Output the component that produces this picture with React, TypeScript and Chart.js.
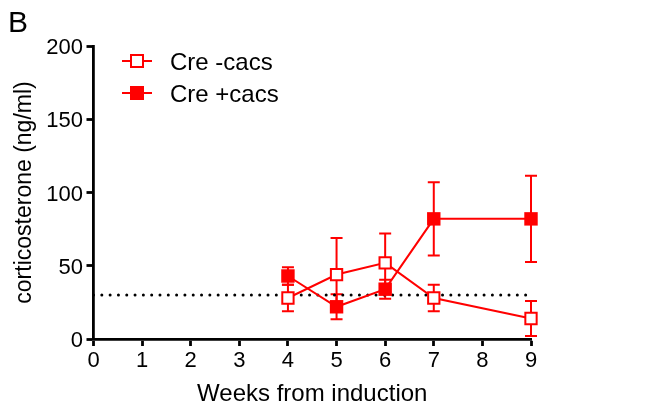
import React, { useEffect, useRef } from "react";
import { Chart, registerables } from "chart.js";
Chart.register(...registerables);

const weeks = [4, 5, 6, 7, 9];
const creMinusMean = [28, 44, 52, 28, 14];
const creMinusErr = [9, 25, 20, 9, 12];
const crePlusMean = [43, 22, 34, 82, 82];
const crePlusErr = [6, 8.5, 6.5, 25, 29.5];
const thresholdValue = 30;
const xRange = [0, 9];
const yRange = [0, 200];
const yStep = 50;
const seriesNames = ["Cre -cacs", "Cre +cacs"];
const xTitle = "Weeks from induction";
const yTitle = "corticosterone (ng/ml)";
const panelLabel = "B";

const RED = "#ff0000";
const FONT = "'Liberation Sans', Arial, sans-serif";

export default function App() {
  const ref = useRef<HTMLCanvasElement>(null);
  useEffect(() => {
    const errorBars = {
      id: "errorBars",
      beforeDatasetsDraw(chart: any) {
        const ctx = chart.ctx;
        const xs = chart.scales.x;
        const ys = chart.scales.y;
        ctx.save();
        chart.data.datasets.forEach((ds: any) => {
          if (!ds.errors) return;
          ctx.strokeStyle = RED;
          ctx.lineWidth = 2;
          ds.data.forEach((p: any, i: number) => {
            const e = ds.errors[i];
            const x = xs.getPixelForValue(p.x);
            const yt = ys.getPixelForValue(p.y + e);
            const yb = ys.getPixelForValue(p.y - e);
            ctx.beginPath();
            ctx.moveTo(x, yt);
            ctx.lineTo(x, yb);
            ctx.moveTo(x - 6, yt);
            ctx.lineTo(x + 6, yt);
            ctx.moveTo(x - 6, yb);
            ctx.lineTo(x + 6, yb);
            ctx.stroke();
          });
        });
        ctx.restore();
      },
    };
    const texts = {
      id: "texts",
      afterDraw(chart: any) {
        const ctx = chart.ctx;
        const xs = chart.scales.x;
        const ys = chart.scales.y;
        const ca = chart.chartArea;
        ctx.save();
        ctx.fillStyle = "#000";
        ctx.font = `22px ${FONT}`;
        ctx.textBaseline = "alphabetic";
        ctx.textAlign = "right";
        ys.ticks.forEach((t: any, i: number) => {
          ctx.fillText(String(t.value), 83, ys.getPixelForTick(i) + 8);
        });
        ctx.textAlign = "center";
        xs.ticks.forEach((t: any, i: number) => {
          ctx.fillText(String(t.value), xs.getPixelForTick(i), 367);
        });
        ctx.font = `24px ${FONT}`;
        ctx.fillText(xTitle, (ca.left + ca.right) / 2, 401);
        ctx.save();
        ctx.translate(31, (ca.top + ca.bottom) / 2);
        ctx.rotate(-Math.PI / 2);
        ctx.font = `23px ${FONT}`;
        ctx.fillText(yTitle, 0, 0);
        ctx.restore();
        ctx.textAlign = "left";
        ctx.font = `30px ${FONT}`;
        ctx.fillText(panelLabel, 8, 32);
        // legend
        const rows = [61, 93];
        rows.forEach((y, i) => {
          ctx.strokeStyle = RED;
          ctx.lineWidth = 2;
          ctx.beginPath();
          ctx.moveTo(122, y);
          ctx.lineTo(152, y);
          ctx.stroke();
          if (i === 0) {
            ctx.fillStyle = "#fff";
            ctx.fillRect(131, y - 6, 12, 12);
            ctx.strokeRect(131, y - 6, 12, 12);
          } else {
            ctx.fillStyle = RED;
            ctx.fillRect(130, y - 7, 14, 14);
          }
          ctx.fillStyle = "#000";
          ctx.font = `24px ${FONT}`;
          ctx.fillText(seriesNames[i], 170, y + 8.5);
        });
        ctx.restore();
      },
    };
    const chart = new Chart(ref.current!, {
      type: "line",
      data: {
        datasets: [
          {
            label: seriesNames[1],
            data: weeks.map((w, i) => ({ x: w, y: crePlusMean[i] })),
            errors: crePlusErr,
            borderColor: RED,
            borderWidth: 2,
            pointStyle: "rect",
            pointRadius: 9.5,
            pointBackgroundColor: RED,
            pointBorderColor: RED,
            pointBorderWidth: 0,
            tension: 0,
            clip: false,
          } as any,
          {
            label: seriesNames[0],
            data: weeks.map((w, i) => ({ x: w, y: creMinusMean[i] })),
            errors: creMinusErr,
            borderColor: RED,
            borderWidth: 2,
            pointStyle: "rect",
            pointRadius: 8,
            pointBackgroundColor: "#fff",
            pointBorderColor: RED,
            pointBorderWidth: 2,
            tension: 0,
            clip: false,
          } as any,
          {
            label: "threshold",
            data: [
              { x: xRange[0], y: thresholdValue },
              { x: xRange[1], y: thresholdValue },
            ],
            borderColor: "#000",
            borderWidth: 3,
            borderDash: [0.01, 8.3],
            borderCapStyle: "round",
            pointRadius: 0,
            clip: false,
          } as any,
        ],
      },
      options: {
        animation: false,
        responsive: true,
        maintainAspectRatio: false,
        layout: { padding: { left: 0, top: 46, right: 128, bottom: 0 } },
        plugins: { legend: { display: false }, tooltip: { enabled: false } },
        scales: {
          x: {
            type: "linear",
            min: xRange[0],
            max: xRange[1],
            ticks: { stepSize: 1, display: false },
            grid: {
              drawOnChartArea: false,
              drawTicks: true,
              tickLength: 7,
              tickWidth: 2.8,
              tickColor: "#000",
            },
            border: { display: true, color: "#000", width: 2.8 },
            afterFit: (s: any) => {
              s.height = 67;
            },
          },
          y: {
            type: "linear",
            min: yRange[0],
            max: yRange[1],
            ticks: { stepSize: yStep, display: false },
            grid: {
              drawOnChartArea: false,
              drawTicks: true,
              tickLength: 7,
              tickWidth: 2.8,
              tickColor: "#000",
            },
            border: { display: true, color: "#000", width: 2.8 },
            afterFit: (s: any) => {
              s.width = 93.5;
            },
          },
        },
      },
      plugins: [errorBars, texts],
    });
    return () => chart.destroy();
  }, []);
  return (
    <div
      style={{
        position: "fixed",
        left: 0,
        top: 0,
        width: 659,
        height: 406,
        background: "#fff",
      }}
    >
      <canvas ref={ref} />
    </div>
  );
}
